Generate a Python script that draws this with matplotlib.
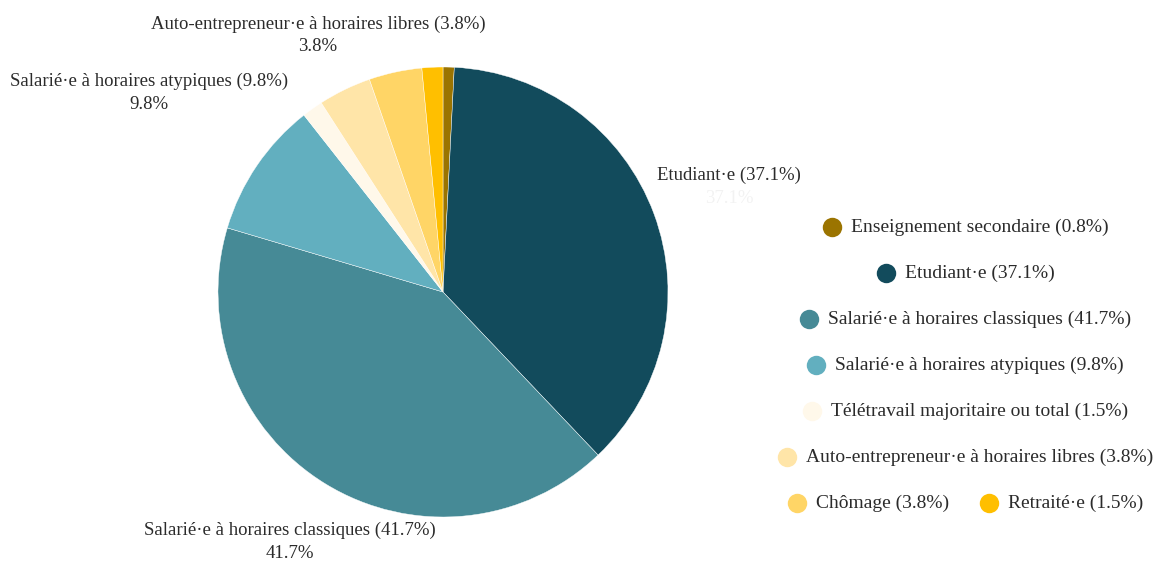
import numpy as np
import matplotlib
matplotlib.use("Agg")
import matplotlib.pyplot as plt

# Répartition par situation professionnelle (%)
categories = [
    "Enseignement secondaire",
    "Etudiant·e",
    "Salarié·e à horaires classiques",
    "Salarié·e à horaires atypiques",
    "Télétravail majoritaire ou total",
    "Auto-entrepreneur·e à horaires libres",
    "Chômage",
    "Retraité·e",
]
values = [0.8, 37.1, 41.7, 9.8, 1.5, 3.8, 3.8, 1.5]
colors = ["#9b7400", "#124b5c", "#468a96", "#62afbf",
          "#fff8ea", "#ffe5a8", "#ffd566", "#ffbf00"]

# slices that get an outside label, with the radial distance of the label
labelled = {1: 1.355, 2: 1.30, 3: 1.58, 5: 1.27}
# legend rows (indices into categories)
legend_rows = [[0], [1], [2], [3], [4], [5], [6, 7]]

W, H = 1160, 565
plt.rcParams["font.family"] = ["Liberation Serif", "DejaVu Serif"]
TEXT = "#2b2b2b"
FS = 14

fig = plt.figure(figsize=(W / 100, H / 100), dpi=100)
ax = fig.add_axes([0, 0, 1, 1])

cx, cy, R = 443, H - 292, 225
wedges, _ = ax.pie(values, colors=colors, startangle=90, counterclock=False,
                   center=(cx, cy), radius=R, frame=True,
                   wedgeprops=dict(edgecolor="white", linewidth=0.3))
ax.set_xlim(0, W)
ax.set_ylim(0, H)
ax.set_aspect("equal")
ax.axis("off")

# outside labels at each slice's mid angle
for i, rf in labelled.items():
    w = wedges[i]
    mid = np.deg2rad((w.theta1 + w.theta2) / 2)
    lx = cx + R * rf * np.cos(mid)
    ly = cy + R * rf * np.sin(mid)
    ax.text(lx, ly + 11, f"{categories[i]} ({values[i]}%)", ha="center",
            va="center", fontsize=13.5, color=TEXT)
    # the value under the Etudiant·e label is almost invisible
    ax.text(lx, ly - 12, f"{values[i]}%", ha="center", va="center",
            fontsize=13.5, color=TEXT, alpha=0.06 if i == 1 else 1.0)

# centred legend, one or two entries per row
fig.canvas.draw()
renderer = fig.canvas.get_renderer()
legend_cx, row_y0, row_step = 970, H - 227, 46
marker_gap, item_gap, msize = 19, 40, 14
for r, row in enumerate(legend_rows):
    y = row_y0 - r * row_step
    texts, widths = [], []
    for i in row:
        t = ax.text(0, y, f"{categories[i]} ({values[i]}%)", ha="left",
                    va="center", fontsize=FS, color=TEXT)
        bb = t.get_window_extent(renderer)
        texts.append(t)
        widths.append(bb.width)
    total = sum(widths) + len(row) * marker_gap + (len(row) - 1) * item_gap
    x = legend_cx - total / 2
    for i, t, wd in zip(row, texts, widths):
        ax.plot([x], [y], "o", ms=msize, color=colors[i], mec="none")
        t.set_x(x + marker_gap)
        x += marker_gap + wd + item_gap

fig.savefig("out.png", dpi=100, facecolor="white")
